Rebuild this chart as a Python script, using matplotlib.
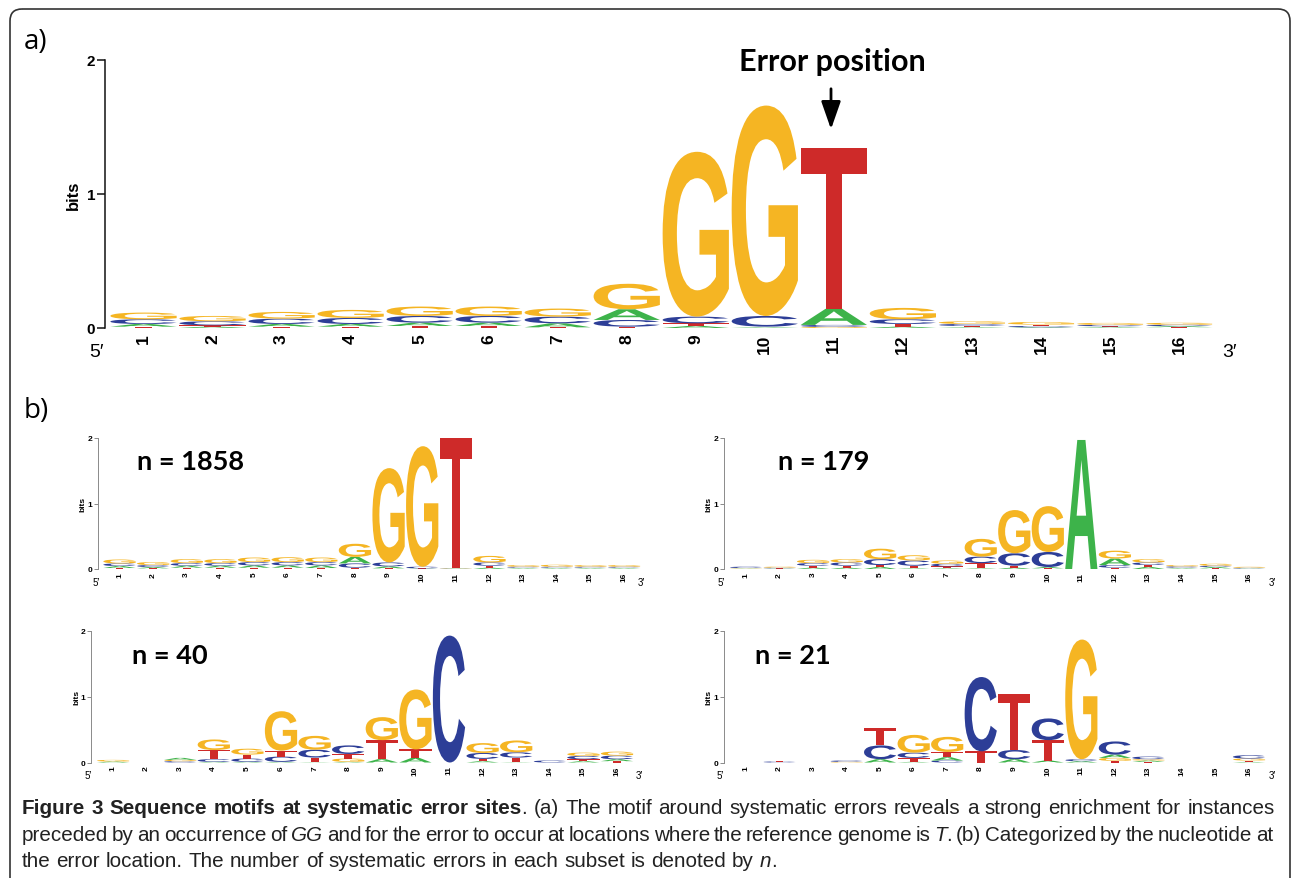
import numpy as np
import matplotlib
matplotlib.use('Agg')
import matplotlib.pyplot as plt
from matplotlib.textpath import TextPath
from matplotlib.font_manager import FontProperties, findfont
from matplotlib.patches import PathPatch, FancyBboxPatch
from matplotlib.transforms import Affine2D

# ---------------- data ----------------
positions = list(range(1, 17))
pos_labels = [str(p) for p in positions]
bases = ['A', 'C', 'G', 'T']
y_ticks = [0, 1, 2]

# panel a (all systematic errors)
a_A = [.02, .01, .02, .02, .025, .025, .03, .08, .015, .005, .12, .01, .005, .005, .005, .008]
a_C = [.035, .03, .04, .045, .05, .05, .05, .05, .05, .08, .015, .035, .015, .01, .01, .01]
a_G = [.05, .04, .05, .06, .07, .07, .06, .19, 1.23, 1.57, .008, .085, .02, .02, .015, .015]
a_T = [.01, .01, .01, .01, .015, .015, .005, .01, .02, .005, 1.20, .02, .01, .01, .008, .006]

# panel b, n = 1858 (reference T)
t_A = [.03, .02, .03, .03, .035, .035, .04, .10, .03, .005, .005, .02, .01, .01, .01, .01]
t_C = [.04, .03, .04, .04, .05, .05, .05, .065, .06, .025, .005, .05, .015, .015, .015, .015]
t_G = [.06, .045, .06, .06, .07, .075, .07, .20, 1.44, 1.84, .005, .10, .025, .03, .025, .025]
t_T = [.015, .01, .02, .02, .02, .02, .015, .02, .01, .005, 1.98, .03, .01, .01, .01, .01]

# panel b, n = 179 (reference A)
r_A = [.005, .005, .02, .02, .03, .01, .01, .01, .02, .02, 1.97, .10, .03, .01, .02, .005]
r_C = [.02, .01, .04, .05, .09, .08, .04, .10, .19, .23, 0, .04, .04, .02, .02, .01]
r_G = [.005, .015, .05, .05, .16, .08, .05, .27, .66, .70, 0, .12, .05, .02, .03, .015]
r_T = [.005, .005, .03, .03, .03, .04, .03, .08, .03, .01, 0, .02, .03, .01, .01, .003]

# panel b, n = 40 (reference C)
c_A = [.015, 0, .03, .01, .01, .01, .005, .01, .05, .07, 0, .02, .005, 0, .02, .03]
c_C = [0, 0, .02, .04, .05, .08, .12, .13, 0, 0, 1.93, .09, .08, .03, .05, .055]
c_G = [.025, 0, .02, .16, .09, .60, .21, .05, .35, .91, 0, .15, .18, 0, .05, .06]
c_T = [0, 0, 0, .14, .06, .09, .07, .07, .29, .13, 0, .035, .07, 0, .03, .02]

# panel b, n = 21 (reference G)
g_A = [0, 0, 0, 0, .05, .01, .05, 0, .05, .03, .02, .05, .02, 0, 0, .01]
g_C = [0, .015, 0, .02, .21, .08, .03, 1.13, .14, .33, .03, .20, .04, 0, 0, .05]
g_G = [0, 0, 0, .01, 0, .27, .23, 0, 0, 0, 1.82, .045, .02, 0, 0, .03]
g_T = [0, .015, 0, 0, .27, .06, .08, .17, .85, .31, 0, .025, .01, 0, 0, .02]

n_labels = ['n = 1858', 'n = 179', 'n = 40', 'n = 21']

colors = {'A': '#3db34a', 'C': '#2d3e97', 'G': '#f5b523', 'T': '#ce2a29'}

# ---------------- figure ----------------
W, H = 1293, 879
fig = plt.figure(figsize=(W / 100, H / 100), dpi=100)

bg = fig.add_axes([0, 0, 1, 1], zorder=0)
bg.set_xlim(0, W)
bg.set_ylim(H, 0)
bg.axis('off')

frame = FancyBboxPatch((10, 10), 1280, 900, boxstyle='round,pad=0,rounding_size=12',
                       fc='none', ec='#333333', lw=1.2, clip_on=False)
bg.add_patch(frame)

glyph_prop = FontProperties(family='Liberation Sans', weight='bold')
glyphs = {b: TextPath((0, 0), b, size=1, prop=glyph_prop) for b in bases}


def draw_logo(ax, A, C, G, T, width=0.96):
    for i, p in enumerate(positions):
        stack = sorted([(A[i], 'A'), (C[i], 'C'), (G[i], 'G'), (T[i], 'T')])
        y = 0.0
        for h, b in stack:
            if h <= 0:
                continue
            path = glyphs[b]
            ext = path.get_extents()
            tr = (Affine2D().translate(-ext.x0, -ext.y0)
                  .scale(width / ext.width, h / ext.height)
                  .translate(p - width / 2, y))
            ax.add_patch(PathPatch(tr.transform_path(path), fc=colors[b], ec='none',
                                   lw=0, clip_on=False))
            y += h


def make_ax(axis_x, x1, x16, y0, y2, big):
    s = (x16 - x1) / 15.0
    xl = 1 - (x1 - axis_x) / s
    xr = 16.55
    right_px = x1 + (xr - 1) * s
    ax = fig.add_axes([axis_x / W, 1 - y0 / H, (right_px - axis_x) / W, (y0 - y2) / H], zorder=2)
    ax.set_xlim(xl, xr)
    ax.set_ylim(0, 2)
    ax.patch.set_alpha(0)
    for sp in ['top', 'right', 'bottom']:
        ax.spines[sp].set_visible(False)
    ax.set_yticks(y_ticks)
    ax.set_xticks(positions)
    ax.set_xticklabels(pos_labels, rotation=90)
    if big:
        ax.spines['left'].set_color('#111111')
        ax.spines['left'].set_linewidth(1.1)
        ax.tick_params(axis='y', length=6, width=1.1, color='#111111', pad=1,
                       labelsize=11)
        ax.tick_params(axis='x', length=0, pad=4, labelsize=12.5)
    else:
        ax.spines['left'].set_color('#8a8a8a')
        ax.spines['left'].set_linewidth(0.7)
        ax.tick_params(axis='y', length=3, width=0.7, color='#8a8a8a', pad=1,
                       labelsize=6)
        ax.tick_params(axis='x', length=0, pad=2, labelsize=6)
    for lab in ax.get_xticklabels() + ax.get_yticklabels():
        lab.set_fontweight('bold')
        lab.set_fontfamily('Liberation Sans')
    return ax


# panel a
ax_a = make_ax(105, 143.5, 1179, 329, 61, True)
draw_logo(ax_a, a_A, a_C, a_G, a_T)

sub_specs = [
    (98, 119.5, 624, 570, 439, t_A, t_C, t_G, t_T),
    (724, 746, 1249, 570, 439, r_A, r_C, r_G, r_T),
    (91, 113, 617, 763.5, 632, c_A, c_C, c_G, c_T),
    (724, 746, 1249, 763.5, 632, g_A, g_C, g_G, g_T),
]
for spec in sub_specs:
    axx = make_ax(*spec[:5], big=False)
    draw_logo(axx, *spec[5:])

sans = ['Liberation Sans', 'DejaVu Sans']
# axis labels / ends for panel a
bg.text(73, 195, 'bits', rotation=90, ha='center', va='center', fontsize=12,
        fontweight='bold', family=sans)
bg.text(96, 353, '5\u2032', ha='center', va='center', fontsize=14, family=sans)
bg.text(1229, 353, '3\u2032', ha='center', va='center', fontsize=14, family=sans)

# sub panel labels
bits_xy = [(83, 504), (709, 504), (77, 697), (709, 697)]
for (bx, by) in bits_xy:
    bg.text(bx, by, 'bits', rotation=90, ha='center', va='center', fontsize=6,
            fontweight='bold', family=sans)
ends = [((96, 583), (641, 583)), ((721, 583), (1272, 583)),
        ((88, 776), (639, 776)), ((720, 776), (1272, 776))]
for (p5, p3) in ends:
    bg.text(p5[0], p5[1], '5\u2032', ha='center', va='center', fontsize=7, family=sans)
    bg.text(p3[0], p3[1], '3\u2032', ha='center', va='center', fontsize=7, family=sans)

n_pos = [(137, 462), (778, 462), (132, 656), (755, 656)]
for (nx, ny), lab in zip(n_pos, n_labels):
    bg.text(nx, ny, lab, ha='left', va='center', fontsize=19.5, fontweight='bold',
            family=['Lato', 'DejaVu Sans'])

bg.text(24, 42, 'a)', ha='left', va='center', fontsize=20, family=['Open Sans', 'DejaVu Sans'])
bg.text(24, 411, 'b)', ha='left', va='center', fontsize=20, family=['Open Sans', 'DejaVu Sans'])

bg.text(832, 62, 'Error position', ha='center', va='center', fontsize=22,
        fontweight='bold', family=['Lato', 'DejaVu Sans'])
bg.annotate('', xy=(831, 133), xytext=(831, 87),
            arrowprops=dict(arrowstyle='-|>,head_width=0.35,head_length=1.0',
                            color='black', lw=2, mutation_scale=17))

# ---------------- caption ----------------
try:
    findfont(FontProperties(family='Liberation Sans Narrow'), fallback_to_default=False)
    cap_family = ['Liberation Sans Narrow', 'DejaVu Sans']
except Exception:
    cap_family = ['Liberation Sans', 'DejaVu Sans']

cap_lines = [
    [('Figure 3 Sequence motifs at systematic error sites', 'bold'),
     ('. (a) The motif around systematic errors reveals a strong enrichment for instances', 'normal')],
    [('preceded by an occurrence of ', 'normal'), ('GG', 'italic'),
     (' and for the error to occur at locations where the reference genome is ', 'normal'),
     ('T', 'italic'), ('. (b) Categorized by the nucleotide at', 'normal')],
    [('the error location. The number of systematic errors in each subset is denoted by ', 'normal'),
     ('n', 'italic'), ('.', 'normal')],
]
cap_y = [809, 836, 862]
justify = [1253, 1251, None]

renderer = fig.canvas.get_renderer()


def tokens_of(line):
    toks = []
    pending_space = False
    for txt, style in line:
        parts = txt.split(' ')
        for j, w in enumerate(parts):
            if j > 0:
                pending_space = True
            if w == '':
                continue
            toks.append((w, style, pending_space and len(toks) > 0))
            pending_space = False
    return toks


def make_text(w, style, size):
    kw = dict(fontsize=size, family=cap_family, ha='left', va='center', color='#222222')
    if style == 'bold':
        kw['fontweight'] = 'bold'
    elif style == 'italic':
        kw['fontstyle'] = 'italic'
    return bg.text(0, 0, w, **kw)


def measure(w, style, size):
    t = make_text(w, style, size)
    wd = t.get_window_extent(renderer).width
    t.remove()
    return wd


def space_w(size):
    return measure('x x', 'normal', size) - measure('xx', 'normal', size)


# choose font size so line 1 fits
base = 12.0
toks0 = tokens_of(cap_lines[0])
nat = sum(measure(w, s, base) for w, s, _ in toks0) + sum(1 for t in toks0 if t[2]) * space_w(base)
cap_size = base * 1235.0 / nat

for line, y, target in zip(cap_lines, cap_y, justify):
    toks = tokens_of(line)
    widths = [measure(w, s, cap_size) for w, s, _ in toks]
    nsp = sum(1 for t in toks if t[2])
    sp = space_w(cap_size)
    if target is not None and nsp > 0:
        sp = (target - sum(widths)) / nsp
    x = 22
    for (w, s, has_sp), wd in zip(toks, widths):
        if has_sp:
            x += sp
        t = make_text(w, s, cap_size)
        t.set_position((x, y))
        x += wd

fig.savefig('out.png', dpi=100)
